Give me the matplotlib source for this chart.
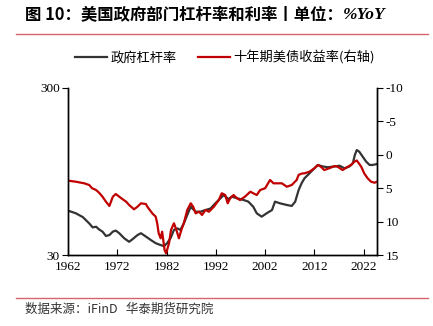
import matplotlib
matplotlib.use("Agg")
import matplotlib.pyplot as plt
from matplotlib.lines import Line2D
from matplotlib.ticker import FixedLocator, NullLocator

plt.rcParams['font.family'] = ['Noto Sans CJK SC', 'DejaVu Sans']
plt.rcParams['axes.unicode_minus'] = False

# 政府杠杆率 (左轴, 对数)
debt_year = [1962.1, 1963.6, 1965.0, 1966.3, 1967.0, 1967.7, 1968.3, 1969.0, 1969.7,
             1970.4, 1971.1, 1971.7, 1972.4, 1973.4, 1974.4, 1975.1, 1976.1, 1976.8,
             1977.8, 1978.8, 1979.8, 1980.8, 1981.5, 1982.1, 1982.8, 1983.5, 1984.2,
             1984.8, 1985.5, 1986.2, 1986.9, 1987.9, 1988.9, 1989.9, 1990.9, 1991.9,
             1992.6, 1993.6, 1994.6, 1995.2, 1996.3, 1997.6, 1998.6, 1999.6, 2000.3,
             2001.3, 2002.3, 2003.4, 2004.0, 2005.0, 2006.4, 2007.4, 2008.1, 2008.8,
             2009.4, 2010.0, 2011.0, 2012.0, 2012.7, 2013.7, 2014.7, 2016.1, 2017.1,
             2018.1, 2019.1, 2019.8, 2020.2, 2020.6, 2021.1, 2021.8, 2022.5, 2023.2,
             2023.8, 2024.7]
debt_val = [55.2, 53.3, 50.6, 46.4, 43.9, 44.3, 42.7, 41.4, 39.0,
            39.5, 41.4, 42.0, 40.5, 37.8, 36.0, 37.3, 39.5, 40.5,
            38.7, 36.9, 35.3, 34.4, 33.9, 35.3, 37.8, 42.4, 43.3,
            42.4, 46.4, 52.1, 58.3, 54.5, 54.5, 55.8, 56.9, 61.2,
            64.1, 68.6, 64.7, 67.1, 65.6, 64.1, 62.6, 58.3, 53.3,
            50.9, 53.3, 55.8, 62.6, 61.2, 59.8, 59.0, 62.6, 73.5,
            80.7, 86.5, 92.5, 99.2, 103.8, 101.7, 100.6, 101.7, 102.7,
            99.2, 101.7, 106.2, 119.1, 127.6, 124.6, 116.4, 108.7, 103.8,
            103.8, 105.2]

# 十年期美债收益率 (右轴, 逆序)
yield_year = [1962.1, 1963.6, 1965.3, 1966.3, 1966.9, 1967.7, 1968.3, 1969.0, 1969.7,
              1970.4, 1971.1, 1971.7, 1972.4, 1973.1, 1973.8, 1974.4, 1975.4, 1976.1,
              1976.8, 1977.8, 1978.1, 1979.1, 1979.8, 1980.1, 1980.4, 1980.8, 1981.1,
              1981.6, 1981.9, 1982.5, 1982.9, 1983.5, 1984.0, 1984.5, 1985.0, 1985.5,
              1986.2, 1986.9, 1987.4, 1987.9, 1988.6, 1989.2, 1989.9, 1990.6, 1991.6,
              1992.6, 1993.2, 1993.9, 1994.4, 1994.9, 1995.6, 1996.3, 1996.9, 1997.9,
              1999.0, 1999.6, 2000.3, 2001.0, 2002.0, 2003.0, 2003.7, 2004.4, 2005.4,
              2006.4, 2007.4, 2008.4, 2008.8, 2009.5, 2010.0, 2011.0, 2012.0, 2012.7,
              2013.3, 2014.0, 2015.0, 2016.1, 2016.7, 2017.7, 2018.8, 2019.4, 2020.1,
              2020.6, 2021.5, 2022.1, 2022.8, 2023.5, 2024.2, 2024.7]
yield_val = [3.88, 4.03, 4.27, 4.52, 5.01, 5.27, 5.67, 6.27, 7.02,
             7.66, 6.27, 5.87, 6.27, 6.66, 7.02, 7.51, 8.16, 7.77,
             7.26, 7.37, 7.77, 8.76, 9.27, 10.25, 11.75, 12.50, 11.51,
             14.25, 14.75, 13.25, 11.26, 10.25, 11.26, 12.50, 11.26, 10.25,
             8.26, 7.26, 7.77, 8.76, 8.52, 9.01, 8.26, 8.52, 7.77,
             6.77, 5.76, 6.02, 7.26, 6.51, 6.02, 6.51, 6.77, 6.27,
             5.52, 5.76, 6.02, 5.27, 5.01, 3.77, 4.27, 4.27, 4.27,
             4.78, 4.52, 3.77, 3.0, 2.8, 2.77, 2.53, 2.02, 1.53,
             1.78, 2.28, 2.02, 1.68, 1.78, 2.28, 1.78, 1.53, 1.03,
             0.85, 1.78, 2.77, 3.52, 4.03, 4.18, 4.03]

year_ticks = [1962, 1972, 1982, 1992, 2002, 2012, 2022]
left_ticks = [30, 300]
right_ticks = [-10, -5, 0, 5, 10, 15]

title_text = '图 10：美国政府部门杠杆率和利率丨单位：'
title_unit = '%YoY'
source_text = '数据来源：iFinD   华泰期货研究院'

W, H = 433, 326
fig = plt.figure(figsize=(W / 100, H / 100), dpi=100)
ax = fig.add_axes([68 / W, 1 - 255 / H, (377 - 68) / W, (255 - 88) / H])
ax2 = ax.twinx()

black = '#333333'
red = '#c00000'
serif = 'Liberation Serif'

l1, = ax.plot(debt_year, debt_val, color=black, lw=1.6, label='政府杠杆率')
l2, = ax2.plot(yield_year, yield_val, color=red, lw=1.6, label='十年期美债收益率(右轴)')

ax.set_yscale('log')
ax.set_ylim(30, 300)
ax.yaxis.set_major_locator(FixedLocator(left_ticks))
ax.yaxis.set_minor_locator(NullLocator())
ax.set_yticklabels([str(t) for t in left_ticks])
ax.set_xlim(1962, 2024.7)
ax.set_xticks(year_ticks)

ax2.set_ylim(15, -10)
ax2.set_yticks(right_ticks)

for a in (ax, ax2):
    a.spines['top'].set_visible(False)
    for s in a.spines.values():
        s.set_linewidth(1.0)
    for lab in a.get_xticklabels() + a.get_yticklabels():
        lab.set_family(serif)
        lab.set_fontsize(9.5)
ax.tick_params(axis='x', direction='in', length=4, pad=4)
ax.tick_params(axis='y', direction='out', length=4, pad=2)
ax2.tick_params(axis='y', direction='out', length=4, pad=2)

fig.legend(handles=[l1, l2], loc='center', bbox_to_anchor=(225 / W, 1 - 58 / H),
           ncol=2, frameon=False, fontsize=9.5, handlelength=2.4,
           columnspacing=1.6, handletextpad=0.3)

# title
t = fig.text(25 / W, 1 - 15 / H, title_text, fontsize=11.8, fontweight='bold',
             va='center', ha='left')
fig.canvas.draw()
bb = t.get_window_extent()
fig.text(bb.x1 / W, 1 - 15 / H, title_unit, fontsize=12.5, fontweight='bold',
         style='italic', family=serif, va='center', ha='left')

line_col = '#d9646a'
fig.add_artist(Line2D([16 / W, 428 / W], [1 - 34 / H] * 2, color=line_col, lw=1.0,
                      transform=fig.transFigure))
fig.add_artist(Line2D([16 / W, 428 / W], [1 - 298 / H] * 2, color=line_col, lw=1.0,
                      transform=fig.transFigure))
fig.text(25 / W, 1 - 309 / H, source_text, fontsize=9, color='#333333',
         va='center', ha='left', family=['Noto Sans CJK SC', serif])

fig.savefig('out.png', dpi=100)
